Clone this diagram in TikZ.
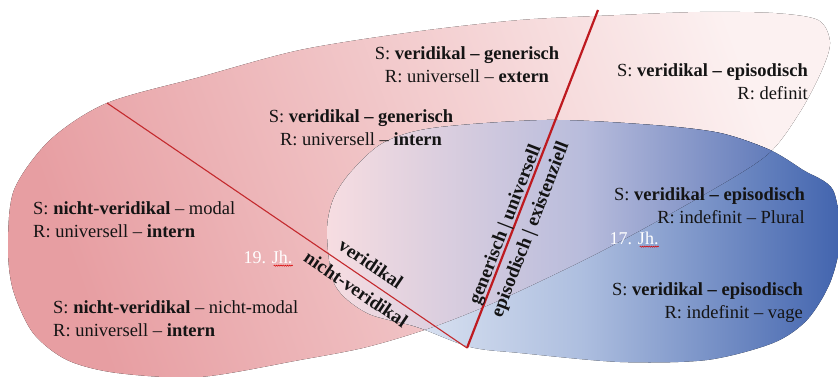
\documentclass[tikz,border=0pt]{standalone}
\usepackage{fontspec}
\setmainfont{Liberation Serif}
\usetikzlibrary{decorations.pathmorphing}
\definecolor{pinkL}{HTML}{E79EA2}
\definecolor{pinkR}{HTML}{FCF1F1}
\definecolor{blueR}{HTML}{4264AE}
\definecolor{blueOutL}{HTML}{F0F4FA}
\definecolor{blueOutM}{HTML}{ADBEDF}
\definecolor{mixL}{HTML}{F7DDE1}
\definecolor{mixM}{HTML}{B8BCDC}
\definecolor{lineA}{HTML}{C42A2E}
\definecolor{lineB}{HTML}{BE1A20}
\definecolor{ink}{HTML}{141414}
\def\pinkblob{plot[smooth cycle, tension=0.5] coordinates {
  (413,32) (520,20) (620,15) (700,12) (773,13) (818,20) (830,42) (822,70) (800,112) (767,155)
  (700,197) (600,252) (500,300) (433,327) (367,347) (300,360) (200,377) (117,373) (67,360)
  (33,333) (13,290) (8,247) (14,190) (50,140) (107,103) (200,77) (300,50)}}
\def\blueblob{plot[smooth cycle, tension=0.5] coordinates {
  (327,233) (335,285) (367,313) (417,327) (470,347) (520,353) (620,362) (707,360) (773,343)
  (807,320) (830,283) (840,240) (833,190) (803,170) (770,150) (720,133) (653,125) (547,120)
  (433,128) (383,143) (350,173) (333,200)}}
\begin{document}
\begin{tikzpicture}[x=1pt,y=-1pt,
  txt/.style={font=\fontsize{18.5}{23}\selectfont, text=ink, inner sep=0pt},
  rot/.style={font=\fontsize{19}{23}\selectfont\bfseries, text=ink, inner sep=0pt},
  era/.style={font=\fontsize{18}{22}\selectfont, text=white, inner sep=0pt},
  wavy/.style={draw=red!85!black, line width=0.5pt, decorate, decoration={snake, amplitude=0.6pt, segment length=2.2pt}}]
\useasboundingbox (0,0) rectangle (838,377);
% pink blob
\fill[left color=pinkL, right color=pinkR, shading angle=110] \pinkblob;
% blue blob (outside the pink one)
\fill[left color=blueOutL, right color=blueR, middle color=blueOutM] \blueblob;
% blue blob where it lies over the pink one
\begin{scope}
  \clip \pinkblob;
  \fill[left color=mixL, right color=blueR, middle color=mixM] \blueblob;
\end{scope}
% dividing lines
\coordinate (la) at (107,103);
\coordinate (lb) at (467,348);
\coordinate (lc) at (598,10);
\draw[lineA, line width=1.1pt] (la) -- (lb);
\draw[lineB, line width=2.2pt] (lb) -- (lc);
% line labels
\node[rot, rotate=-34.2] (ver) at (371,264) {veridikal};
\node[rot, rotate=-34.2] (nver) at (356,289) {nicht-veridikal};
\node[rot, rotate=68.8] (gen) at (506,225) {generisch | universell};
\node[rot, rotate=68.8] (epi) at (531,230) {episodisch | existenziell};
% text blocks
\node[txt, align=center] (t1) at (467,65) {S: \textbf{veridikal – generisch}\\R: universell – \textbf{extern}};
\node[txt, align=center] (t2) at (361,128) {S: \textbf{veridikal – generisch}\\R: universell – \textbf{intern}};
\node[txt, align=right, anchor=east] (t3) at (808,82) {S: \textbf{veridikal – episodisch}\\R: definit};
\node[txt, align=left, anchor=west] (t4) at (33,219.5) {S: \textbf{nicht-veridikal} – modal\\R: universell – \textbf{intern}};
\node[txt, align=left, anchor=west] (t5) at (53,319) {S: \textbf{nicht-veridikal} – nicht-modal\\R: universell – \textbf{intern}};
\node[txt, align=right, anchor=east] (t6) at (805,206) {S: \textbf{veridikal – episodisch}\\R: indefinit – Plural};
\node[txt, align=right, anchor=east] (t7) at (803,302.5) {S: \textbf{veridikal – episodisch}\\R: indefinit – vage};
\node[era] (j19) at (268,257) {19. Jh.};
\node[era] (j17) at (634,238) {17. Jh.};
\draw[wavy] ([xshift=-19pt,yshift=-2.5pt]j19.base east) -- ([yshift=-2.5pt]j19.base east);
\draw[wavy] ([xshift=-19pt,yshift=-2.5pt]j17.base east) -- ([yshift=-2.5pt]j17.base east);
\end{tikzpicture}
\end{document}
